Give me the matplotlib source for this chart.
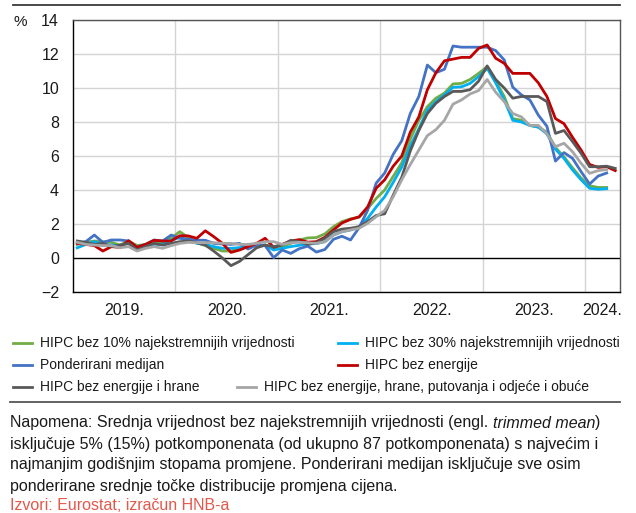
import matplotlib
matplotlib.use("Agg")
import matplotlib.pyplot as plt
from matplotlib.lines import Line2D

W, H = 636, 513

# monthly data, Jan 2019 .. Apr 2024 (index 0 = Jan 2019)
trim10 = [0.80, 0.92, 1.00, 0.96, 0.92, 0.76, 1.00, 0.73, 0.80, 0.92, 0.96, 1.16,
          1.55, 1.20, 0.90, 0.73, 0.57, 0.41, 0.41, 0.57, 0.67, 0.73, 0.76, 0.57,
          0.67, 0.86, 1.06, 1.18, 1.20, 1.42, 1.84, 2.14, 2.30, 2.40, 2.90, 3.50,
          4.00, 4.80, 5.60, 7.00, 8.10, 8.90, 9.40, 9.70, 10.24, 10.27, 10.50, 10.86,
          11.25, 10.40, 9.50, 8.20, 8.10, 7.80, 7.70, 7.40, 6.50, 5.95, 5.30, 4.70,
          4.25, 4.15, 4.15]
trim30 = [0.60, 0.80, 0.96, 0.80, 0.76, 0.73, 0.86, 0.67, 0.73, 0.80, 0.80, 1.06,
          1.20, 1.06, 0.86, 0.80, 0.67, 0.57, 0.57, 0.61, 0.67, 0.73, 0.76, 0.47,
          0.57, 0.67, 0.75, 0.82, 0.85, 0.96, 1.35, 1.55, 1.65, 1.84, 2.33, 3.00,
          3.60, 4.45, 5.35, 6.60, 7.60, 8.70, 9.20, 9.60, 10.04, 10.07, 10.27, 10.67,
          11.16, 10.30, 9.30, 8.10, 8.00, 7.80, 7.70, 7.30, 6.40, 5.86, 5.18, 4.60,
          4.10, 4.04, 4.08]
median_w = [0.86, 0.96, 1.35, 0.92, 1.06, 1.06, 1.00, 0.63, 0.80, 1.06, 1.00, 1.35,
            1.16, 1.10, 1.05, 1.04, 0.86, 0.82, 0.80, 0.86, 0.53, 0.76, 0.73, 0.02,
            0.47, 0.27, 0.55, 0.70, 0.35, 0.50, 1.10, 1.28, 1.06, 1.78, 2.80, 4.40,
            5.00, 6.10, 6.90, 8.50, 9.50, 11.35, 10.90, 11.10, 12.47, 12.40, 12.40, 12.40,
            12.40, 12.20, 11.65, 10.05, 9.60, 9.30, 8.40, 7.75, 5.70, 6.20, 5.86, 5.08,
            4.35, 4.82, 5.00]
ex_energy = [0.86, 0.80, 0.73, 0.41, 0.67, 0.62, 1.02, 0.63, 0.80, 1.04, 1.00, 1.00,
             1.31, 1.30, 1.16, 1.60, 1.25, 0.86, 0.33, 0.47, 0.67, 0.86, 1.16, 0.63,
             0.80, 1.00, 1.08, 0.93, 0.96, 1.22, 1.65, 2.06, 2.27, 2.42, 3.00, 4.10,
             4.60, 5.40, 6.00, 7.40, 8.30, 9.90, 10.90, 11.60, 11.70, 11.80, 11.80, 12.33,
             12.53, 11.75, 11.45, 10.86, 10.86, 10.86, 10.30, 9.50, 8.20, 7.90, 7.10, 6.35,
             5.50, 5.33, 5.37, 5.14]
ex_energy_food = [1.00, 0.92, 0.80, 0.86, 0.67, 0.76, 0.86, 0.47, 0.67, 0.86, 0.76, 0.86,
                  0.96, 1.00, 0.90, 0.76, 0.40, 0.00, -0.45, -0.20, 0.20, 0.60, 0.76, 0.67,
                  0.76, 1.04, 0.96, 0.80, 0.90, 1.16, 1.55, 1.70, 1.75, 1.84, 2.14, 2.50,
                  2.60, 3.70, 4.75, 6.30, 7.50, 8.50, 9.10, 9.50, 9.80, 9.80, 9.90, 10.40,
                  11.30, 10.50, 10.00, 9.40, 9.50, 9.50, 9.50, 9.20, 7.33, 7.50, 6.85, 6.16,
                  5.37, 5.37, 5.40, 5.27]
ex_core_narrow = [0.92, 0.80, 0.76, 0.73, 0.73, 0.60, 0.67, 0.41, 0.57, 0.67, 0.57, 0.73,
                  0.86, 0.92, 0.90, 0.90, 0.90, 0.86, 0.86, 0.80, 0.80, 0.86, 0.96, 0.96,
                  0.80, 0.90, 0.92, 0.90, 0.86, 0.96, 1.35, 1.55, 1.65, 1.75, 2.04, 2.43,
                  2.80, 3.60, 4.60, 5.50, 6.35, 7.20, 7.55, 8.10, 9.05, 9.30, 9.65, 9.85,
                  10.50, 9.75, 9.20, 8.50, 8.30, 7.80, 7.80, 7.30, 6.55, 6.75, 6.25, 5.57,
                  4.98, 5.14, 5.20]

labels = ['HIPC bez 10% najekstremnijih vrijednosti',
          'HIPC bez 30% najekstremnijih vrijednosti',
          'Ponderirani medijan',
          'HIPC bez energije',
          'HIPC bez energije i hrane',
          'HIPC bez energije, hrane, putovanja i odjeće i obuće']
colors = ['#70ad47', '#00b0f0', '#4472c4', '#c00000', '#595959', '#a6a6a6']
series = [trim10, trim30, median_w, ex_energy, ex_energy_food, ex_core_narrow]

year_labels = ['2019.', '2020.', '2021.', '2022.', '2023.', '2024.']
year_centers = [5.5, 17.5, 29.5, 41.5, 53.5, 61.5]
year_bounds = [11.5, 23.5, 35.5, 47.5, 59.5]
yticks = [-2, 0, 2, 4, 6, 8, 10, 12, 14]

note_lines = [
    ('Napomena: Srednja vrijednost bez najekstremnijih vrijednosti (engl. ', 'trimmed mean', ')'),
    ('isključuje 5% (15%) potkomponenata (od ukupno 87 potkomponenata) s najvećim i', '', ''),
    ('najmanjim godišnjim stopama promjene. Ponderirani medijan isključuje sve osim', '', ''),
    ('ponderirane srednje točke distribucije promjena cijena.', '', ''),
]
source = 'Izvori: Eurostat; izračun HNB-a'

font = ['Liberation Sans', 'DejaVu Sans']
ink = '#1a1a1a'


def fx(px):
    return px / W


def fy(py):
    return 1 - py / H


fig = plt.figure(figsize=(W / 100, H / 100), dpi=100)
ax = fig.add_axes([fx(73), fy(292), fx(619.5) - fx(73), fy(20) - fy(292)])

for vals, c in zip(series, colors):
    ax.plot(range(len(vals)), vals, color=c, lw=2.0, solid_joinstyle='round', zorder=3)

ax.set_xlim(-0.5, 63.5)
ax.set_ylim(-2, 14)
ax.set_yticks(yticks)
ax.set_yticklabels([str(t).replace('-', '\u2212') for t in yticks], family=font, fontsize=11.5)
ax.set_xticks(year_centers)
ax.set_xticklabels(year_labels, family=font, fontsize=11.5)
ax.tick_params(axis='both', length=0, colors=ink)
ax.tick_params(axis='y', pad=10)
ax.tick_params(axis='x', pad=8)

for t in yticks:
    if t == 0:
        ax.axhline(0, color='black', lw=1.0, zorder=2)
    else:
        ax.axhline(t, color='#d4d4d4', lw=1.0, zorder=1)
for b in year_bounds:
    ax.axvline(b, color='#d4d4d4', lw=1.0, zorder=1)

for side in ['left', 'bottom']:
    ax.spines[side].set_color('black')
    ax.spines[side].set_linewidth(1.0)
for side in ['top', 'right']:
    ax.spines[side].set_color('#555555')
    ax.spines[side].set_linewidth(1.0)

fig.text(fx(13), fy(22), '%', family=font, fontsize=11, va='center', ha='left', color=ink)

# top and separator lines
fig.add_artist(Line2D([fx(13), fx(620)], [fy(4.5), fy(4.5)], color='#3a3a3a', lw=1.3))
fig.add_artist(Line2D([fx(10), fx(620)], [fy(402), fy(402)], color='#555555', lw=1.3))

# legend, laid out by hand like the original
legend_pos = [(13, 343), (338, 343), (13, 365), (338, 365), (13, 387), (237, 387)]
for (lx, ly), lab, c in zip(legend_pos, labels, colors):
    fig.add_artist(Line2D([fx(lx), fx(lx + 19)], [fy(ly), fy(ly)], color=c, lw=2.0))
    fig.text(fx(lx + 27), fy(ly), lab, family=font, fontsize=10.0, va='center', ha='left',
             color=ink)

# note text
note_y = [423, 444, 465, 486]
for (a, b, c), ny in zip(note_lines, note_y):
    t = fig.text(fx(10), fy(ny), a, family=font, fontsize=11.5, va='center', ha='left',
                 color=ink)
    if b:
        t2 = ax.annotate(b, xy=(1, 0), xycoords=t, va='bottom', ha='left', family=font,
                         fontsize=11.5, style='italic', color=ink, annotation_clip=False)
        ax.annotate(c, xy=(1, 0), xycoords=t2, va='bottom', ha='left', family=font,
                    fontsize=11.5, color=ink, annotation_clip=False)

fig.text(fx(10), fy(506), source, family=font, fontsize=11.5, va='center', ha='left',
         color='#e4574b')

fig.savefig('out.png', dpi=100)
